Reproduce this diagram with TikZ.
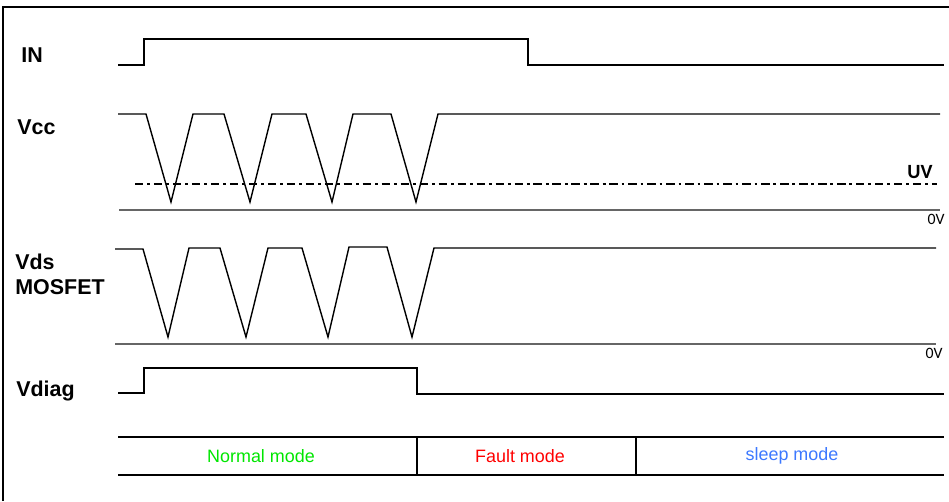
\documentclass[tikz,border=0pt]{standalone}
\usepackage{fontspec}
\setmainfont{Liberation Sans}
\newfontfamily\levelfont{Carlito}
\definecolor{normalgreen}{RGB}{0,230,0}
\definecolor{faultred}{RGB}{255,0,0}
\definecolor{sleepblue}{RGB}{60,120,255}

\begin{document}
\begin{tikzpicture}[x=0.02cm, y=-0.02cm,
	signal/.style={line width=0.8pt, line join=miter},
	zeroline/.style={black!60, line width=0.6pt},
	uvline/.style={line width=1.5pt, dash pattern=on 4.8pt off 2.2pt on 1.6pt off 2.2pt},
	signame/.style={anchor=west, inner sep=0pt, align=left, font=\fontsize{12.2}{14.4}\selectfont\bfseries},
	level/.style={inner sep=0pt, font=\levelfont\fontsize{9}{10}\selectfont},
	modetext/.style={inner sep=0pt, font=\fontsize{10.2}{12}\selectfont}]
	\useasboundingbox (0,0) rectangle (949,501);
	
	% frame
	\draw[line width=1.1pt] (3,501) -- (3,7) -- (949,7);
	
	% signal names
	\node[signame] (in) at (21,55) {IN};
	\node[signame] (vcc) at (17,127) {Vcc};
	\node[signame] (vds) at (15,274) {Vds\\MOSFET};
	\node[signame] (vdiag) at (16,391) {Vdiag};
	
	% IN
	\draw[signal] (118,65) -- (144,65) -- (144,39) -- (528,39) -- (528,65) -- (944,65);
	
	% Vcc
	\draw[signal] (118,114) -- (146,114) -- (171,202) -- (193,114) -- (224,114) -- (250,202)
		-- (272,114) -- (306,114) -- (332,202) -- (353,114) -- (391,114) -- (416,202)
		-- (438,114) -- (940,114);
	\draw[uvline] (135,184) -- (937,184);
	\node[level, font=\levelfont\fontsize{11.5}{12}\selectfont\bfseries] (uv) at (920,172) {UV};
	\draw[zeroline] (119,210) -- (940,210);
	\node[level] (zero1) at (936,219) {0V};
	
	% Vds MOSFET
	\draw[signal] (115,249) -- (143,249) -- (168,337) -- (189,248) -- (220,248) -- (246,337)
		-- (268,248) -- (302,248) -- (328,337) -- (349,247) -- (387,247) -- (412,337)
		-- (434,248) -- (936,248);
	\draw[zeroline] (115,344) -- (936,344);
	\node[level] (zero2) at (934,353) {0V};
	
	% Vdiag
	\draw[signal] (118,393) -- (144,393) -- (144,368) -- (417,368) -- (417,394) -- (944,394);
	
	% modes
	\coordinate (faultstart) at (417,437);
	\coordinate (sleepstart) at (636,437);
	\draw[signal] (118,437) -- (944,437);
	\draw[signal] (118,475) -- (944,475);
	\draw[signal] (faultstart) -- ++(0,38);
	\draw[signal] (sleepstart) -- ++(0,38);
	\node[modetext, text=normalgreen] (normal) at (261,456) {Normal mode};
	\node[modetext, text=faultred] (fault) at (520,456) {Fault mode};
	\node[modetext, text=sleepblue] (sleep) at (792,456) {sleep mode};
\end{tikzpicture}
\end{document}
